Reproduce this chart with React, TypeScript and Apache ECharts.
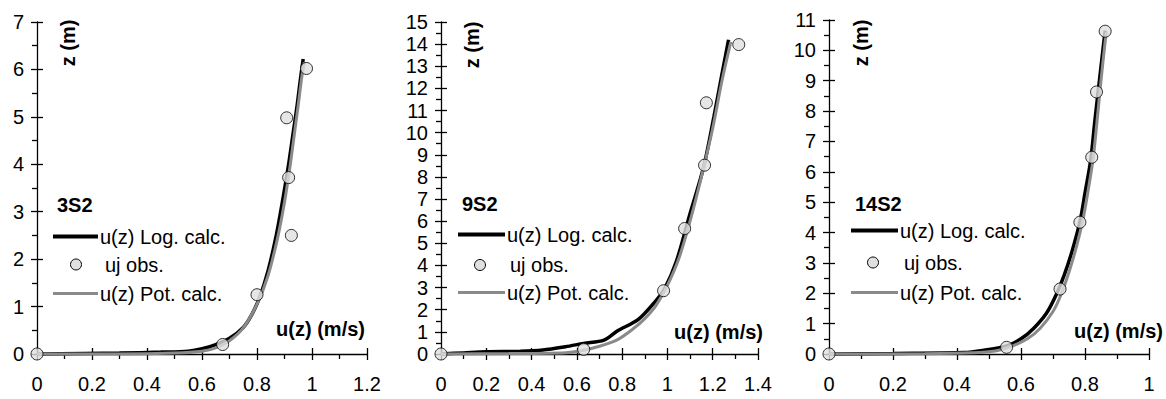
import React, { useEffect, useRef } from "react";
import * as echarts from "echarts";

const FONT = "'Liberation Sans', Arial, Helvetica, sans-serif";

const panelNames = ["3S2", "9S2", "14S2"];
const xMax = [1.2, 1.4, 1];
const yMax = [7, 15, 11];
const legendLabels = ["u(z) Log. calc.", "uj obs.", "u(z) Pot. calc."];
const yTitle = "z (m)";
const xTitle = "u(z) (m/s)";

// Panel 3S2
const log1 = [[0, 0], [0.3, 0.02], [0.45, 0.04], [0.55, 0.06], [0.6, 0.11], [0.65, 0.2], [0.7, 0.33], [0.75, 0.56], [0.78, 0.82], [0.81, 1.2], [0.84, 1.75], [0.87, 2.5], [0.895, 3.3], [0.915, 4.0], [0.93, 4.6], [0.945, 5.2], [0.958, 5.8], [0.968, 6.22]];
const pot1 = [[0, 0], [0.3, 0], [0.5, 0.02], [0.6, 0.06], [0.65, 0.13], [0.7, 0.28], [0.75, 0.55], [0.8, 1.05], [0.84, 1.65], [0.875, 2.45], [0.9, 3.2], [0.92, 3.95], [0.935, 4.6], [0.95, 5.25], [0.962, 5.8], [0.972, 6.15]];
const obs1 = [[0, 0], [0.675, 0.2], [0.8, 1.25], [0.925, 2.5], [0.915, 3.72], [0.908, 4.98], [0.98, 6.02]];

// Panel 9S2
const log2 = [[0, 0], [0.1, 0.05], [0.2, 0.1], [0.35, 0.12], [0.45, 0.18], [0.55, 0.33], [0.63, 0.48], [0.72, 0.63], [0.78, 1.05], [0.87, 1.55], [0.94, 2.3], [0.985, 2.9], [1.04, 4.2], [1.1, 6.35], [1.16, 8.45], [1.205, 10.7], [1.24, 12.6], [1.27, 14.2]];
const pot2 = [[0, 0], [0.3, 0.02], [0.55, 0.06], [0.62, 0.15], [0.7, 0.35], [0.78, 0.65], [0.85, 1.15], [0.9, 1.6], [0.95, 2.2], [1.0, 3.1], [1.05, 4.3], [1.1, 6.0], [1.15, 8.0], [1.2, 10.2], [1.24, 12.3], [1.28, 14.1]];
const obs2 = [[0, 0], [0.63, 0.21], [0.983, 2.86], [1.076, 5.67], [1.164, 8.53], [1.172, 11.35], [1.315, 13.98]];

// Panel 14S2
const log3 = [[0, 0], [0.2, 0.02], [0.42, 0.05], [0.48, 0.12], [0.555, 0.27], [0.6, 0.5], [0.64, 0.85], [0.68, 1.35], [0.71, 1.95], [0.735, 2.6], [0.76, 3.4], [0.785, 4.4], [0.8, 5.3], [0.818, 6.4], [0.83, 7.6], [0.845, 9.0], [0.858, 10.2], [0.863, 10.65]];
const pot3 = [[0, 0], [0.3, 0.01], [0.45, 0.04], [0.52, 0.1], [0.57, 0.25], [0.62, 0.5], [0.66, 0.85], [0.7, 1.4], [0.725, 1.95], [0.75, 2.7], [0.775, 3.6], [0.795, 4.5], [0.81, 5.4], [0.825, 6.4], [0.837, 7.6], [0.85, 9.0], [0.862, 10.2], [0.867, 10.6]];
const obs3 = [[0, 0], [0.555, 0.22], [0.722, 2.14], [0.784, 4.34], [0.821, 6.48], [0.836, 8.63], [0.863, 10.63]];

const logs = [log1, log2, log3];
const pots = [pot1, pot2, pot3];
const obss = [obs1, obs2, obs3];

// layout
const grids = [
  { left: 37, top: 22, width: 330, height: 332 },
  { left: 441, top: 22, width: 317, height: 332 },
  { left: 829, top: 20, width: 320, height: 334 },
];
const legendPos = [
  { nx: 57, ny: 205, l1: 53, l2: 98, ty: [236.5, 264.5, 293.5], tx: [100, 105, 100], cx: 76 },
  { nx: 462, ny: 203.5, l1: 458, l2: 505, ty: [234.5, 265, 292.5], tx: [507, 510, 507], cx: 480 },
  { nx: 855, ny: 204, l1: 851, l2: 898, ty: [230.5, 262.5, 292.5], tx: [900, 904, 900], cx: 873 },
];
const yTitlePos = [[68, 43], [471.5, 45], [861, 43]];
const xTitlePos = [[365, 329], [763, 331.5], [1163, 331]];

const BLACK = "#000";
const GRAY = "#8a8a8a";
const DOT = "#e0e0e0";
const FS = 20;

function fmt(v: number) {
  return String(Math.round(v * 10) / 10);
}

export default function App() {
  const ref = useRef<HTMLDivElement>(null);
  useEffect(() => {
    if (!ref.current) return;
    const chart = echarts.init(ref.current, null, { renderer: "svg" });
    const xAxis: any[] = [];
    const yAxis: any[] = [];
    const series: any[] = [];
    const graphic: any[] = [];
    const tickStyle = { color: BLACK, width: 1.3 };
    for (let i = 0; i < 3; i++) {
      xAxis.push({
        type: "value", gridIndex: i, position: "bottom", min: 0, max: xMax[i], interval: 0.2,
        axisLine: { onZero: false, lineStyle: { color: BLACK, width: 1.3 } },
        axisTick: { show: true, inside: false, length: 6, lineStyle: tickStyle },
        minorTick: { show: true, splitNumber: 2, length: 5, lineStyle: tickStyle },
        splitLine: { show: false }, minorSplitLine: { show: false },
        axisLabel: { margin: 20, fontSize: FS, color: BLACK, fontFamily: FONT, formatter: fmt },
      });
      xAxis.push({
        type: "value", gridIndex: i, position: "bottom", min: 0, max: xMax[i], interval: 0.2,
        axisLine: { show: false, onZero: false },
        axisTick: { show: true, inside: true, length: 6, lineStyle: tickStyle },
        splitLine: { show: false }, axisLabel: { show: false },
      });
      yAxis.push({
        type: "value", gridIndex: i, position: "left", min: 0, max: yMax[i], interval: 1,
        axisLine: { onZero: false, lineStyle: { color: BLACK, width: 1.3 } },
        axisTick: { show: true, inside: false, length: 6, lineStyle: tickStyle },
        minorTick: { show: true, splitNumber: 2, length: 5, lineStyle: tickStyle },
        splitLine: { show: false }, minorSplitLine: { show: false },
        axisLabel: { margin: 13, fontSize: FS, color: BLACK, fontFamily: FONT },
      });
      yAxis.push({
        type: "value", gridIndex: i, position: "left", min: 0, max: yMax[i], interval: 1,
        axisLine: { show: false, onZero: false },
        axisTick: { show: true, inside: true, length: 6, lineStyle: tickStyle },
        splitLine: { show: false }, axisLabel: { show: false },
      });
      series.push({
        type: "line", name: legendLabels[0], xAxisIndex: 2 * i, yAxisIndex: 2 * i, data: logs[i],
        showSymbol: false, symbol: "none", smooth: 0.3, clip: false,
        lineStyle: { color: BLACK, width: 3.5 }, z: 2,
      });
      series.push({
        type: "line", name: legendLabels[2], xAxisIndex: 2 * i, yAxisIndex: 2 * i, data: pots[i],
        showSymbol: false, symbol: "none", smooth: 0.3, clip: false,
        lineStyle: { color: GRAY, width: 3 }, z: 3,
      });
      series.push({
        type: "scatter", name: legendLabels[1], xAxisIndex: 2 * i, yAxisIndex: 2 * i, data: obss[i],
        symbol: "circle", symbolSize: 12, clip: false,
        itemStyle: { color: DOT, borderColor: BLACK, borderWidth: 1 }, z: 4,
      });

      const lp = legendPos[i];
      graphic.push({
        type: "text", x: lp.nx, y: lp.ny,
        style: { text: panelNames[i], fontSize: FS, fontWeight: "bold", fontFamily: FONT, fill: BLACK, align: "left", verticalAlign: "middle" },
      });
      graphic.push({ type: "line", shape: { x1: lp.l1, y1: lp.ty[0], x2: lp.l2, y2: lp.ty[0] }, style: { stroke: BLACK, lineWidth: 4 } });
      graphic.push({ type: "line", shape: { x1: lp.l1, y1: lp.ty[2], x2: lp.l2, y2: lp.ty[2] }, style: { stroke: GRAY, lineWidth: 3 } });
      graphic.push({ type: "circle", shape: { cx: lp.cx, cy: lp.ty[1], r: 5.5 }, style: { fill: DOT, stroke: BLACK, lineWidth: 1 } });
      for (let k = 0; k < 3; k++) {
        graphic.push({
          type: "text", x: lp.tx[k], y: lp.ty[k],
          style: { text: legendLabels[k], fontSize: FS, fontFamily: FONT, fill: BLACK, align: "left", verticalAlign: "middle" },
        });
      }
      graphic.push({
        type: "text", x: yTitlePos[i][0], y: yTitlePos[i][1], rotation: Math.PI / 2,
        style: { text: yTitle, fontSize: FS, fontWeight: "bold", fontFamily: FONT, fill: BLACK, align: "center", verticalAlign: "middle" },
      });
      graphic.push({
        type: "text", x: xTitlePos[i][0], y: xTitlePos[i][1],
        style: { text: xTitle, fontSize: FS, fontWeight: "bold", fontFamily: FONT, fill: BLACK, align: "right", verticalAlign: "middle" },
      });
    }
    chart.setOption({
      animation: false,
      backgroundColor: "#fff",
      grid: grids.map((g) => ({ ...g, containLabel: false })),
      xAxis, yAxis, series, graphic,
    });
    return () => chart.dispose();
  }, []);
  return <div ref={ref} style={{ position: "absolute", left: 0, top: 0, width: 1166, height: 399 }} />;
}
